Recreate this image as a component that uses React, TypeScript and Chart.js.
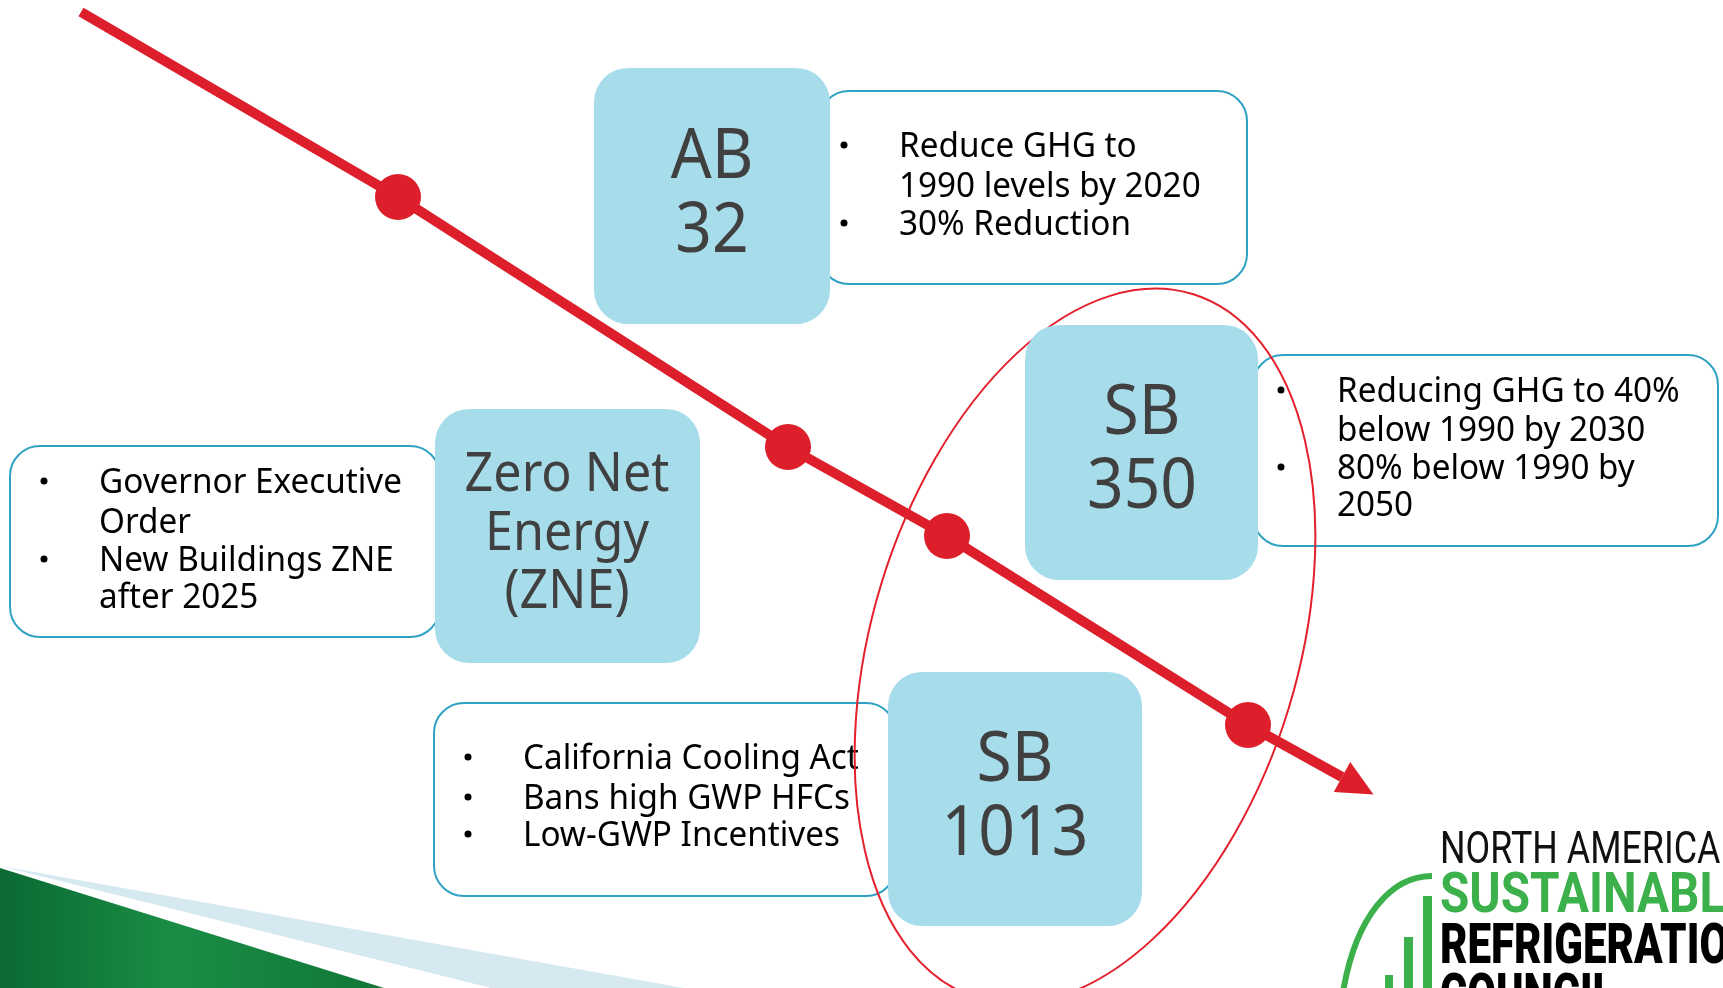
import React, { useEffect, useRef } from "react";
import { Chart, registerables } from "chart.js";

Chart.register(...registerables);

// ---- data -----------------------------------------------------------
// Emissions trend path: start, four policy milestones, arrow base
const trendX = [81, 398, 788, 947, 1248, 1342];
const trendY = [12, 197, 447, 536, 725, 777];

const milestoneLabels = [
  ["AB", "32"],
  ["Zero Net", "Energy", "(ZNE)"],
  ["SB", "350"],
  ["SB", "1013"],
];

const milestoneNotes = [
  ["Reduce GHG to", "1990 levels by 2020", "30% Reduction"],
  ["Governor Executive", "Order", "New Buildings ZNE", "after 2025"],
  ["Reducing GHG to 40%", "below 1990 by 2030", "80% below 1990 by", "2050"],
  ["California Cooling Act", "Bans high GWP HFCs", "Low-GWP Incentives"],
];

const noteBullets = [
  [true, false, true],
  [true, false, true, false],
  [true, false, true, false],
  [true, true, true],
];

const logoLines = ["NORTH AMERICAN", "SUSTAINABLE", "REFRIGERATION", "COUNCIL"];

// ---- layout / styles --------------------------------------------------
const W = 1723;
const H = 988;
const RED = "#dc1f2a";
const BLUE_FILL = "#a7dcea";
const TEAL = "#2fa2c3";
const LABEL = "#404040";
const LOGO_GREEN = "#3cb04a";

const layout = [
  { box: [594, 68, 236, 256], note: [819, 91, 428, 193], labelX: 712, labelBase: [178, 252], labelSize: 69, bulletX: 844, textX: 899, base: [157, 197, 235] },
  { box: [435, 409, 265, 254], note: [10, 446, 430, 191], labelX: 567, labelBase: [491, 550, 608], labelSize: 54, bulletX: 44, textX: 99, base: [493, 533, 571, 608] },
  { box: [1025, 325, 233, 255], note: [1253, 355, 465, 191], labelX: 1142, labelBase: [434, 508], labelSize: 69, bulletX: 1281, textX: 1337, base: [402, 441, 479, 516] },
  { box: [888, 672, 254, 254], note: [434, 703, 462, 193], labelX: 1015, labelBase: [781, 855], labelSize: 69, bulletX: 468, textX: 523, base: [769, 809, 846] },
];

function roundRect(ctx: CanvasRenderingContext2D, x: number, y: number, w: number, h: number, r: number) {
  ctx.beginPath();
  ctx.moveTo(x + r, y);
  ctx.lineTo(x + w - r, y);
  ctx.arcTo(x + w, y, x + w, y + r, r);
  ctx.lineTo(x + w, y + h - r);
  ctx.arcTo(x + w, y + h, x + w - r, y + h, r);
  ctx.lineTo(x + r, y + h);
  ctx.arcTo(x, y + h, x, y + h - r, r);
  ctx.lineTo(x, y + r);
  ctx.arcTo(x, y, x + r, y, r);
  ctx.closePath();
}

function drawFit(ctx: CanvasRenderingContext2D, text: string, x: number, y: number, width: number) {
  const m = ctx.measureText(text).width;
  ctx.save();
  ctx.translate(x, y);
  ctx.scale(width / m, 1);
  ctx.textAlign = "left";
  ctx.fillText(text, 0, 0);
  ctx.restore();
}

function drawScaled(ctx: CanvasRenderingContext2D, text: string, x: number, y: number, sx: number, align: CanvasTextAlign) {
  ctx.save();
  ctx.translate(x, y);
  ctx.scale(sx, 1);
  ctx.textAlign = align;
  ctx.fillText(text, 0, 0);
  ctx.restore();
}

const diagramPlugin = {
  id: "diagram",
  beforeDatasetsDraw(chart: any) {
    const ctx: CanvasRenderingContext2D = chart.ctx;
    const sx = chart.scales.x;
    const sy = chart.scales.y;
    const X = (v: number) => sx.getPixelForValue(v);
    const Y = (v: number) => sy.getPixelForValue(v);
    ctx.save();

    // bottom-left decorative wedges
    ctx.fillStyle = "#d6e9f1";
    ctx.beginPath();
    ctx.moveTo(X(0), Y(866));
    ctx.lineTo(X(684), Y(988));
    ctx.lineTo(X(491), Y(988));
    ctx.closePath();
    ctx.fill();
    const g = ctx.createLinearGradient(X(0), 0, X(384), 0);
    g.addColorStop(0, "#0b6934");
    g.addColorStop(0.45, "#1a8d45");
    g.addColorStop(1, "#117639");
    ctx.fillStyle = g;
    ctx.beginPath();
    ctx.moveTo(X(0), Y(868));
    ctx.lineTo(X(384), Y(988));
    ctx.lineTo(X(0), Y(988));
    ctx.closePath();
    ctx.fill();

    // note boxes
    layout.forEach((L, i) => {
      const [x, y, w, h] = L.note;
      roundRect(ctx, X(x), Y(y), w, h, 30);
      ctx.fillStyle = "#ffffff";
      ctx.fill();
      ctx.strokeStyle = TEAL;
      ctx.lineWidth = 2;
      ctx.stroke();
      ctx.fillStyle = "#000000";
      ctx.font = "35px 'Noto Sans'";
      ctx.textBaseline = "alphabetic";
      milestoneNotes[i].forEach((t, j) => {
        drawScaled(ctx, t, X(L.textX), Y(L.base[j]), 0.95, "left");
        if (noteBullets[i][j]) {
          ctx.beginPath();
          ctx.arc(X(L.bulletX), Y(L.base[j] - 12), 3.5, 0, Math.PI * 2);
          ctx.fill();
        }
      });
    });

    // highlight ellipse
    ctx.strokeStyle = "#e3202b";
    ctx.lineWidth = 2;
    ctx.beginPath();
    ctx.ellipse(X(1085), Y(646), 213, 368, (17 * Math.PI) / 180, 0, Math.PI * 2);
    ctx.stroke();

    // milestone label boxes
    layout.forEach((L, i) => {
      const [x, y, w, h] = L.box;
      roundRect(ctx, X(x), Y(y), w, h, 34);
      ctx.fillStyle = BLUE_FILL;
      ctx.fill();
      ctx.fillStyle = LABEL;
      ctx.font = `${L.labelSize}px 'Noto Sans'`;
      ctx.textBaseline = "alphabetic";
      milestoneLabels[i].forEach((t, j) => {
        drawScaled(ctx, t, X(L.labelX), Y(L.labelBase[j]), 0.93, "center");
      });
    });

    // logo
    ctx.strokeStyle = LOGO_GREEN;
    ctx.lineWidth = 6;
    ctx.beginPath();
    ctx.moveTo(X(1432), Y(876));
    ctx.bezierCurveTo(X(1392), Y(876), X(1356), Y(915), X(1343), Y(992));
    ctx.stroke();
    ctx.fillStyle = LOGO_GREEN;
    ctx.fillRect(X(1423), Y(896), 9, 100);
    ctx.fillRect(X(1404), Y(937), 9, 60);
    ctx.fillRect(X(1385), Y(975), 8, 20);

    ctx.textBaseline = "alphabetic";
    ctx.fillStyle = "#111111";
    ctx.font = "400 44px Roboto";
    drawFit(ctx, logoLines[0], X(1440), Y(863), 306);
    ctx.fillStyle = LOGO_GREEN;
    ctx.font = "700 55px Roboto";
    drawFit(ctx, logoLines[1], X(1440), Y(912), 312);
    ctx.fillStyle = "#000000";
    ctx.font = "900 55px Roboto";
    drawFit(ctx, logoLines[2], X(1440), Y(963), 318);
    drawFit(ctx, logoLines[3], X(1440), Y(1013), 175);

    ctx.restore();
  },
  afterDatasetsDraw(chart: any) {
    const ctx: CanvasRenderingContext2D = chart.ctx;
    const meta = chart.getDatasetMeta(0);
    const pts = meta.data;
    const a = pts[pts.length - 2];
    const b = pts[pts.length - 1];
    const dx = b.x - a.x;
    const dy = b.y - a.y;
    const len = Math.hypot(dx, dy);
    const ux = dx / len;
    const uy = dy / len;
    const headLen = 36;
    const half = 17;
    ctx.save();
    ctx.fillStyle = RED;
    ctx.beginPath();
    ctx.moveTo(b.x + ux * headLen, b.y + uy * headLen);
    ctx.lineTo(b.x - uy * half, b.y + ux * half);
    ctx.lineTo(b.x + uy * half, b.y - ux * half);
    ctx.closePath();
    ctx.fill();
    ctx.restore();
  },
};

export default function App() {
  const ref = useRef<HTMLCanvasElement | null>(null);
  useEffect(() => {
    if (!ref.current) return;
    const n = trendX.length;
    const chart = new Chart(ref.current, {
      type: "scatter",
      data: {
        datasets: [
          {
            label: "Emissions trend",
            data: trendX.map((x, i) => ({ x, y: trendY[i] })),
            showLine: true,
            borderColor: RED,
            borderWidth: 10,
            borderCapStyle: "butt",
            backgroundColor: RED,
            pointBackgroundColor: RED,
            pointBorderWidth: 0,
            pointRadius: (c: any) => (c.dataIndex === 0 || c.dataIndex === n - 1 ? 0 : 23),
            pointHoverRadius: (c: any) => (c.dataIndex === 0 || c.dataIndex === n - 1 ? 0 : 23),
            clip: false,
          } as any,
        ],
      },
      options: {
        responsive: false,
        animation: false,
        events: [],
        layout: { padding: 0 },
        scales: {
          x: { type: "linear", min: 0, max: W, display: false },
          y: { type: "linear", min: 0, max: H, reverse: true, display: false },
        },
        plugins: { legend: { display: false }, tooltip: { enabled: false } },
      },
      plugins: [diagramPlugin],
    });
    return () => chart.destroy();
  }, []);
  return (
    <div style={{ position: "fixed", left: 0, top: 0, width: W, height: H, background: "#ffffff" }}>
      <canvas ref={ref} width={W} height={H} style={{ display: "block" }} />
    </div>
  );
}
